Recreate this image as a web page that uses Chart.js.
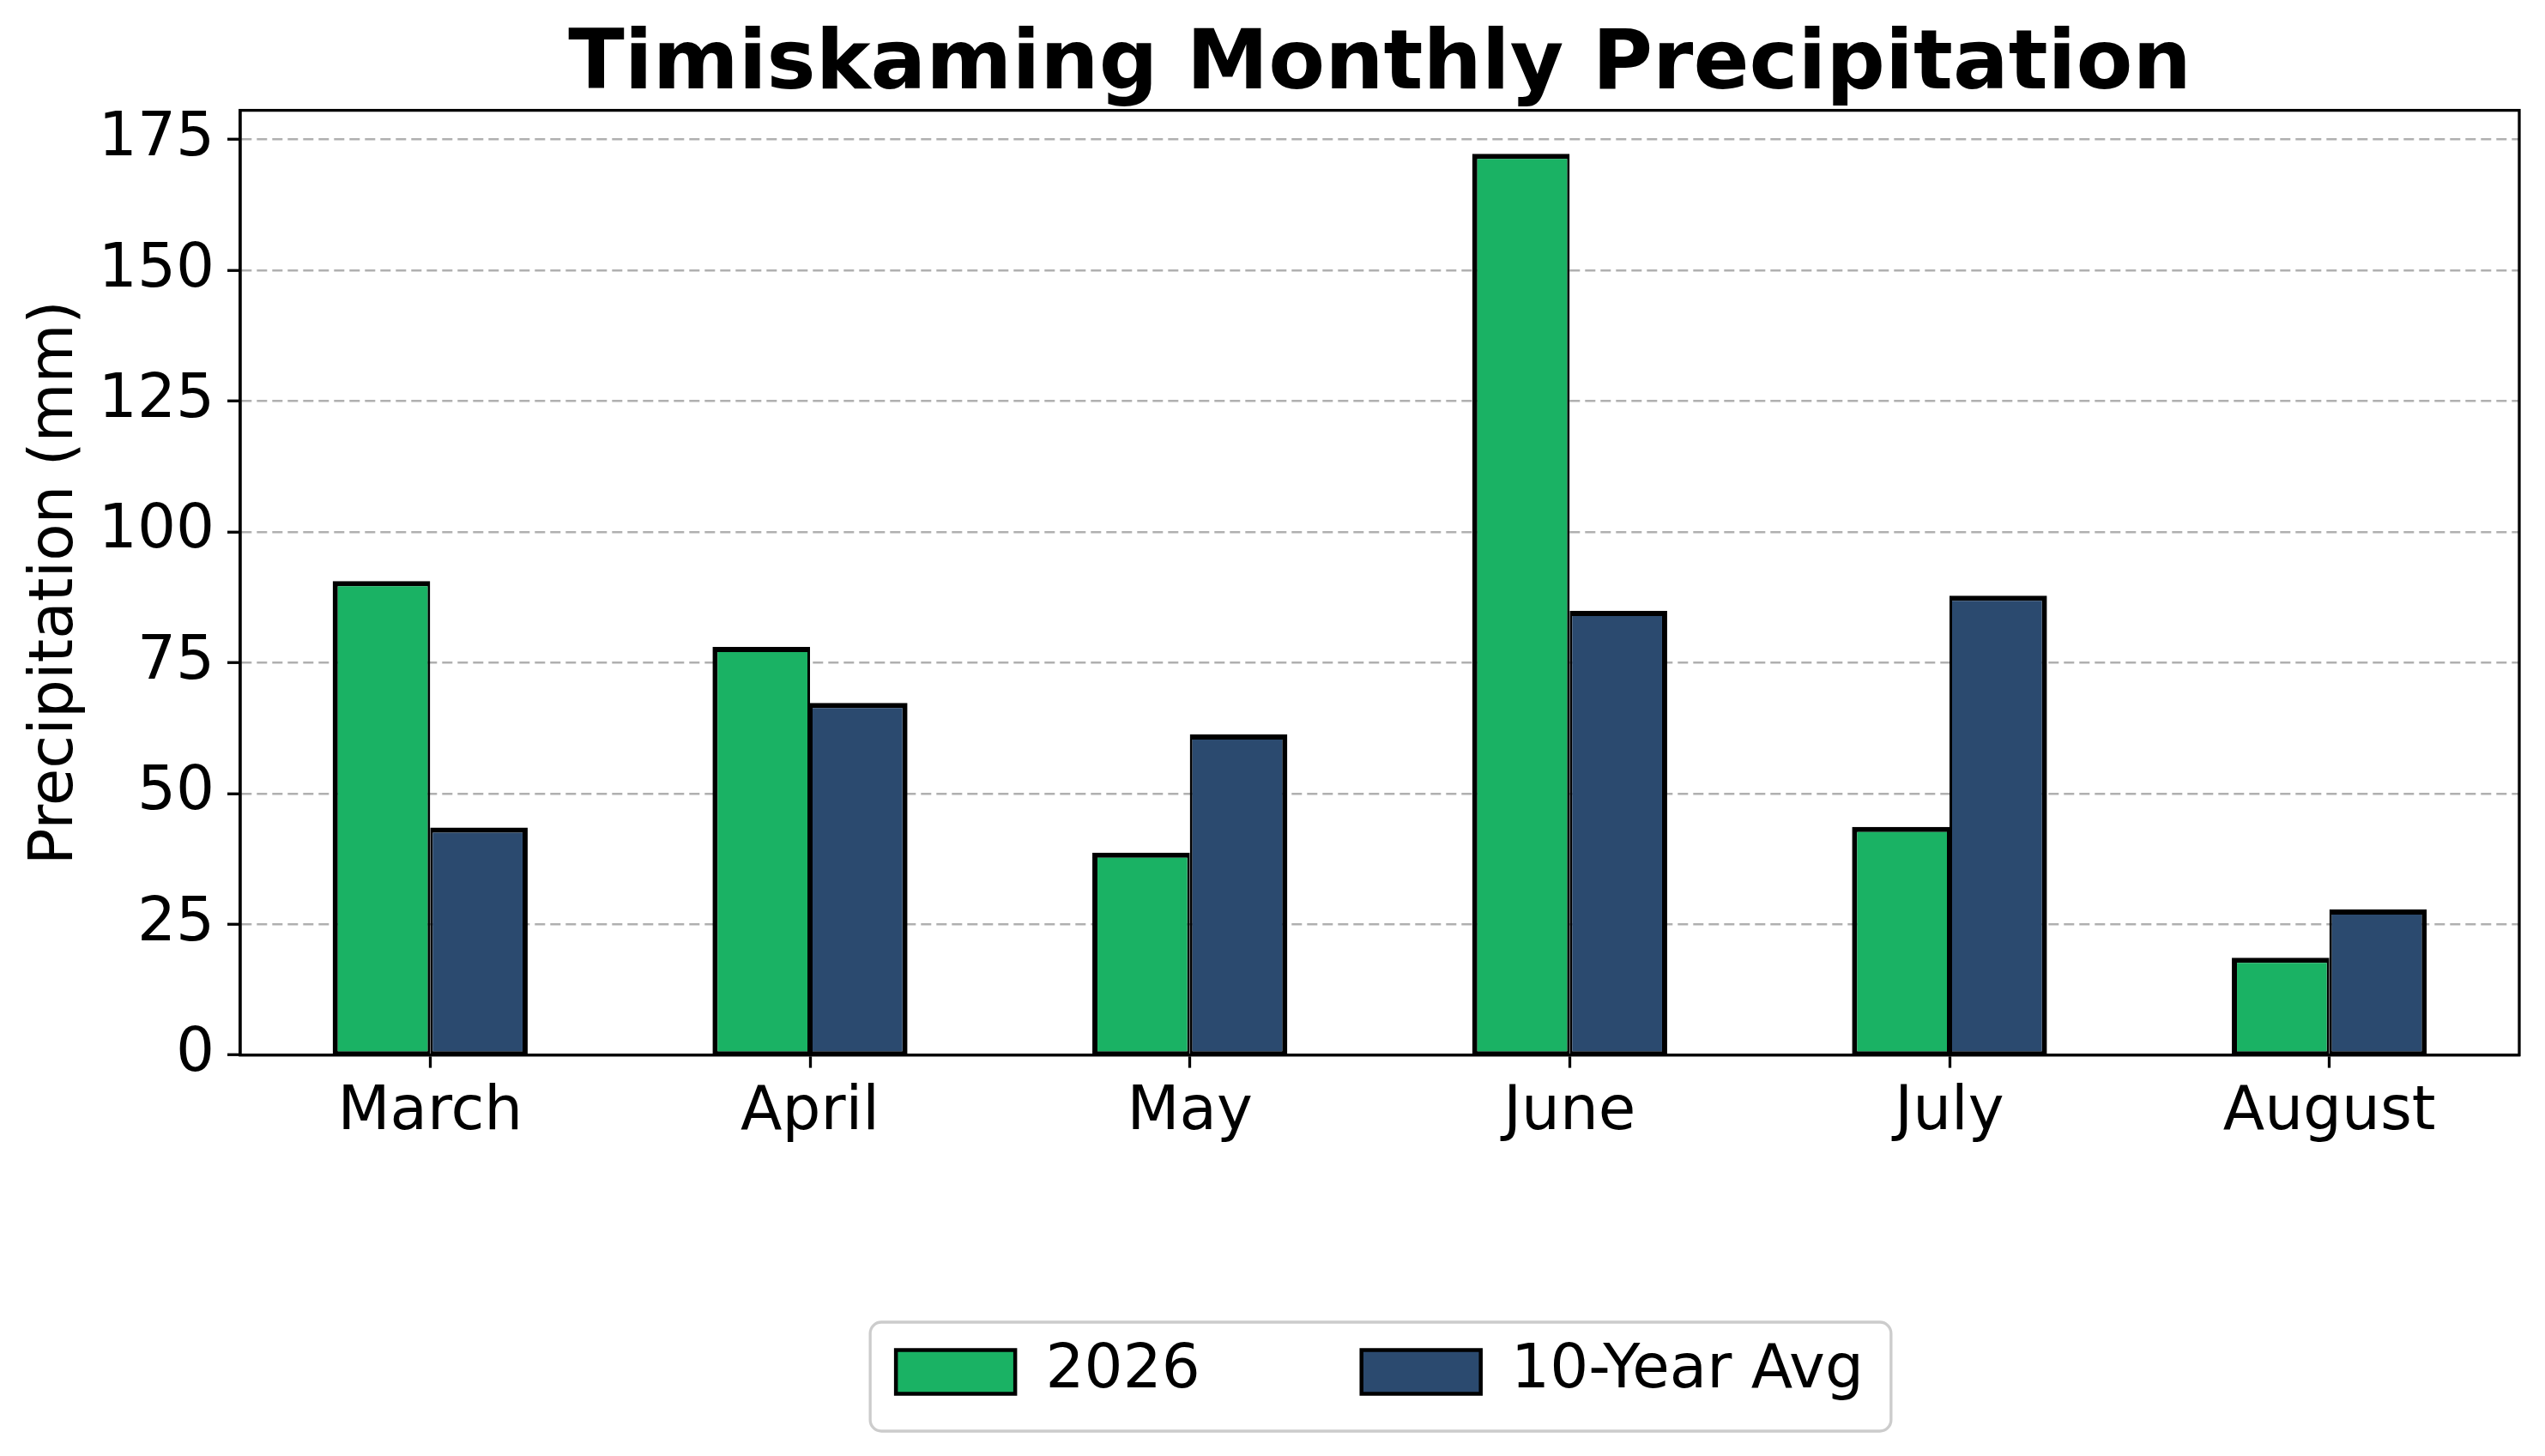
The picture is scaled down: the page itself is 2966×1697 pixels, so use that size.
<!DOCTYPE html>
<html>
<head>
<meta charset="utf-8">
<title>Timiskaming Monthly Precipitation</title>
<script src="https://cdn.jsdelivr.net/npm/chart.js@4.4.1/dist/chart.umd.min.js"></script>
<style>
  html, body { margin: 0; padding: 0; background: #fff; }
  #chart { display: block; }
</style>
</head>
<body>
<canvas id="chart" width="2966" height="1697"></canvas>
<script>
// values (mm)
const months = ['March', 'April', 'May', 'June', 'July', 'August'];
const precip2026 = [90.6, 78.0, 38.7, 172.3, 43.6, 18.6];
const tenYearAvg = [43.5, 67.3, 61.3, 84.9, 87.8, 27.8];
const seriesNames = ['2026', '10-Year Avg'];
const yTickValues = [0, 25, 50, 75, 100, 125, 150, 175];
const yMax = 180.6;

const GREEN = '#1ab264';
const NAVY = '#2b4a6f';
const FONT = "'DejaVu Sans', sans-serif";
const TXT = 70.8;

// outer frame of the axes + rounded legend frame
const framePlugin = {
    id: 'frame',
    afterDraw(chart) {
        const { ctx, chartArea } = chart;
        ctx.save();
        ctx.lineWidth = 3.3;
        ctx.strokeStyle = '#000';
        ctx.strokeRect(chartArea.left, chartArea.top, chartArea.right - chartArea.left, chartArea.bottom - chartArea.top);

        const boxes = chart.legend && chart.legend.legendHitBoxes;
        if (boxes && boxes.length) {
            const left = Math.min(...boxes.map(b => b.left)) - 30;
            const right = Math.max(...boxes.map(b => b.left + b.width)) + 32;
            const mid = boxes[0].top + boxes[0].height / 2;
            const top = mid - 58, bottom = mid + 69;
            ctx.lineWidth = 3.3;
            ctx.strokeStyle = '#cccccc';
            ctx.beginPath();
            ctx.roundRect(left, top, right - left, bottom - top, 13);
            ctx.stroke();
        }
        ctx.restore();
    }
};

const ctx = document.getElementById('chart').getContext('2d');
new Chart(ctx, {
    type: 'bar',
    data: {
        labels: months,
        datasets: [{
            label: seriesNames[0],
            data: precip2026,
            backgroundColor: GREEN,
            borderColor: '#000',
            borderWidth: { top: 6, left: 6, right: 3, bottom: 3 },
            borderSkipped: false,
        }, {
            label: seriesNames[1],
            data: tenYearAvg,
            backgroundColor: NAVY,
            borderColor: '#000',
            borderWidth: { top: 6, left: 3, right: 6, bottom: 3 },
            borderSkipped: false,
        }]
    },
    options: {
        responsive: false,
        devicePixelRatio: 1,
        animation: false,
        categoryPercentage: 0.5134,
        barPercentage: 1.0,
        layout: { padding: { top: 0, left: 0, right: 30, bottom: 52.6 } },
        plugins: {
            title: {
                display: true,
                text: 'Timiskaming Monthly Precipitation',
                fullSize: false,
                color: '#000',
                font: { family: FONT, size: 96, weight: 'bold', lineHeight: 1.0 },
                padding: { top: 30, bottom: 2.6 }
            },
            legend: {
                position: 'bottom',
                fullSize: false,
                labels: {
                    color: '#000',
                    font: { family: FONT, size: TXT },
                    boxWidth: 139,
                    boxHeight: 51,
                    padding: 188
                }
            },
            tooltip: { enabled: false }
        },
        scales: {
            x: {
                offset: true,
                grid: {
                    display: true,
                    offset: false,
                    drawOnChartArea: false,
                    drawTicks: true,
                    tickLength: 15,
                    tickWidth: 3.3,
                    tickColor: '#000'
                },
                border: { display: true, color: '#000', width: 3.3 },
                ticks: {
                    color: '#000',
                    font: { family: FONT, size: TXT },
                    padding: 11,
                    maxRotation: 0,
                    autoSkip: false
                },
                afterFit(scale) { scale.height = 146; }
            },
            y: {
                min: 0,
                max: yMax,
                grid: {
                    color: '#b0b0b0',
                    lineWidth: 2.5,
                    drawTicks: true,
                    tickLength: 15,
                    tickWidth: 3.3,
                    tickColor: '#000',
                    tickBorderDash: []
                },
                border: { display: true, color: '#000', width: 3.3, dash: [12, 6] },
                ticks: {
                    color: '#000',
                    font: { family: FONT, size: TXT },
                    padding: 15
                },
                title: {
                    display: true,
                    text: 'Precipitation (mm)',
                    color: '#000',
                    font: { family: FONT, size: TXT },
                    padding: { top: 23.5, bottom: 0 }
                },
                afterBuildTicks(scale) {
                    scale.ticks = yTickValues.map(v => ({ value: v }));
                },
                afterFit(scale) { scale.width = 280; }
            }
        }
    },
    plugins: [framePlugin]
});
</script>
</body>
</html>
